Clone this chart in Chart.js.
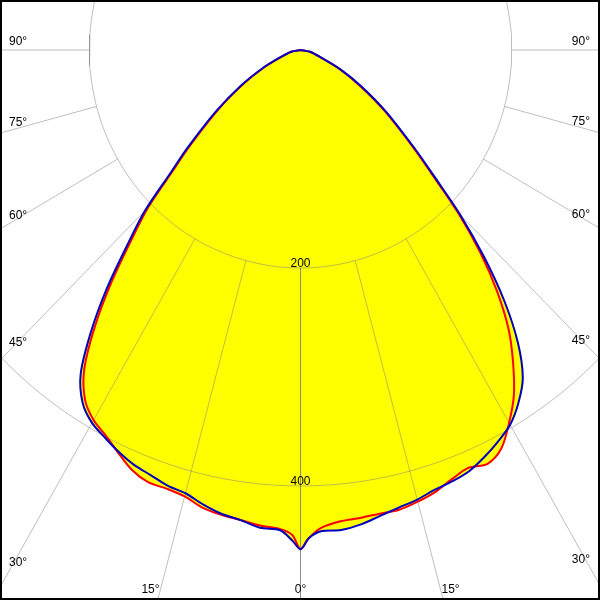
<!DOCTYPE html>
<html>
<head>
<meta charset="utf-8">
<script src="https://cdn.jsdelivr.net/npm/chart.js@4"></script>
<style>
  html, body { margin: 0; padding: 0; background: #fff; }
  canvas { display: block; }
</style>
</head>
<body>
<canvas id="chart" width="600" height="600"></canvas>
<script>
// angles measured from straight down (0°), negative to the left
const angles = [-90, -80, -70, -65, -60, -55, -50, -47.5, -45, -42.5, -40, -37.5, -35, -32.5, -30,
  -27.5, -25, -22.5, -20, -17.5, -15, -12.5, -10, -7.5, -5, -2.5, -1, 0, 1, 2.5, 5, 7.5, 10, 12.5,
  15, 17.5, 20, 22.5, 25, 27.5, 30, 32.5, 35, 37.5, 40, 42.5, 45, 47.5, 50, 55, 60, 65, 70, 80, 90];

const redValues = [0, 9, 21, 39, 63, 95, 137, 164, 204, 238, 279, 320, 357, 380, 392,
  399, 408, 417, 422, 422, 424, 430, 433, 435, 438, 440, 445, 458, 448, 439, 434, 433, 432, 432,
  429, 425, 419, 415, 419, 412, 395, 376, 351, 324, 290, 252, 211, 169, 140, 97, 64, 40, 21, 9, 0];

const blueValues = [0, 9, 22, 40, 65, 97, 140, 167, 208, 243, 285, 326, 363, 384, 395,
  401, 407, 412, 415, 419, 421, 427, 432, 435, 440, 441, 450, 458, 448, 442, 442, 439, 434, 430,
  427, 423, 421, 418, 412, 405, 397, 384, 367, 338, 300, 257, 214, 172, 142, 99, 66, 41, 22, 9, 0];

const ringValues = [200, 400];
const spokeAngles = [-90, -75, -60, -45, -30, -15, 0, 15, 30, 45, 60, 75, 90];
const spokeLabels = ['90°', '75°', '60°', '45°', '30°', '15°', '0°', '15°', '30°', '45°', '60°', '75°', '90°'];

const gridColor = 'rgba(128,128,128,0.5)';

function toXY(deg, r) {
  const a = deg * Math.PI / 180;
  return { x: r * Math.sin(a), y: r * Math.cos(a) };
}
const curve = vals => angles.map((a, i) => toXY(a, vals[i]));

function ring(r) {
  const pts = [];
  for (let a = -180; a <= 180; a += 2) pts.push(toXY(a, r));
  return pts;
}

const datasets = [];

// outlines on top
datasets.push({ data: curve(blueValues), borderColor: '#0000c0', borderWidth: 2, tension: 0.3, fill: false, order: 0 });
datasets.push({ data: curve(redValues), borderColor: '#ff0000', borderWidth: 2, tension: 0.3, fill: false, order: 1 });

// grid rings and spokes
ringValues.forEach(r => {
  datasets.push({ data: ring(r), borderColor: gridColor, borderWidth: 1, tension: 0, fill: false, order: 2 });
});
spokeAngles.forEach(a => {
  datasets.push({ data: [toXY(a, ringValues[0]), toXY(a, 1000)], borderColor: gridColor, borderWidth: 1, fill: false, order: 2 });
});

// yellow area under everything
[redValues, blueValues].forEach(v => {
  datasets.push({ data: curve(v), borderColor: 'rgba(0,0,0,0)', borderWidth: 0, backgroundColor: '#ffff00', tension: 0.3, fill: 'shape', order: 3 });
});

datasets.forEach(d => { d.showLine = true; d.pointRadius = 0; });

const decor = {
  id: 'decor',
  afterDatasetsDraw(chart) {
    const { ctx, scales: { x, y } } = chart;
    const cx = x.getPixelForValue(0), cy = y.getPixelForValue(0);
    ctx.save();
    ctx.font = '12px "Liberation Sans", Arial, sans-serif';
    ctx.fillStyle = '#000';
    ctx.textBaseline = 'alphabetic';

    ctx.textAlign = 'center';
    ringValues.forEach(r => ctx.fillText(String(r), cx, y.getPixelForValue(r) - 1));

    spokeAngles.forEach((a, i) => {
      const d = toXY(a, 1);
      const dx = x.getPixelForValue(d.x) - cx;
      const dy = y.getPixelForValue(d.y) - cy;
      if (Math.abs(a) >= 30) {
        const edge = a < 0 ? 9 : 590;
        const py = cy + (edge - cx) / dx * dy;
        ctx.textAlign = a < 0 ? 'left' : 'right';
        ctx.fillText(spokeLabels[i], edge, py - 5);
      } else {
        const base = 593;
        const px = cx + (base - cy) / dy * dx;
        ctx.textAlign = a < 0 ? 'right' : (a > 0 ? 'left' : 'center');
        ctx.fillText(spokeLabels[i], px, base);
      }
    });
    ctx.restore();
  },
  afterDraw(chart) {
    const { ctx, width, height } = chart;
    ctx.save();
    ctx.strokeStyle = '#000';
    ctx.lineWidth = 4;
    ctx.strokeRect(0, 0, width, height);
    ctx.restore();
  }
};

new Chart(document.getElementById('chart'), {
  type: 'scatter',
  data: { datasets },
  options: {
    responsive: false,
    animation: false,
    events: [],
    layout: { padding: 0 },
    scales: {
      x: { type: 'linear', display: false, min: -284.6, max: 283.6 },
      y: { type: 'linear', display: false, reverse: true, min: -45.9, max: 504.6 }
    },
    plugins: {
      legend: { display: false },
      tooltip: { enabled: false }
    }
  },
  plugins: [decor]
});
</script>
</body>
</html>
